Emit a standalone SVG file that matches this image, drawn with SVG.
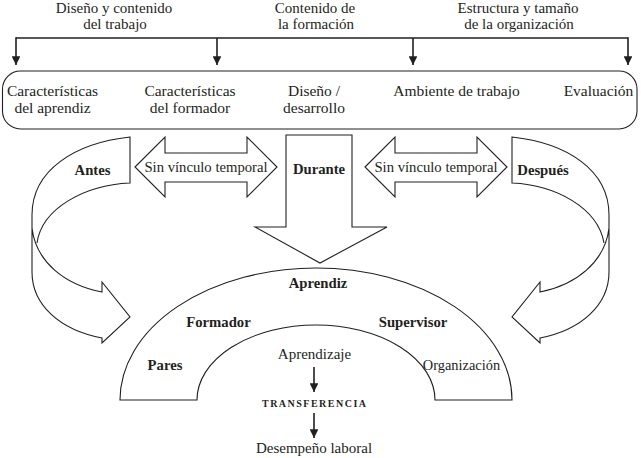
<svg xmlns="http://www.w3.org/2000/svg" width="641" height="458" viewBox="0 0 641 458">
<defs>
<style>
text{font-family:"Liberation Serif","Times New Roman",serif;fill:#231f20;text-anchor:middle}
.r{font-size:15px}
.bx{font-size:15.5px}
.b{font-size:14.7px;font-weight:bold}
.tr{font-size:10px;font-weight:bold;text-anchor:start}
.sh{fill:#fff;stroke:#231f20;stroke-width:1.1;stroke-linejoin:miter}
.ln{fill:none;stroke:#231f20;stroke-width:1.1}
.cn{fill:none;stroke:#231f20;stroke-width:1.6}
</style>
<marker id="ah" viewBox="0 0 10 10" refX="10" refY="5" markerWidth="5.5" markerHeight="5.5" markerUnits="strokeWidth" orient="auto">
<path d="M0,0 L10,5 L0,10 Z" fill="#231f20"/>
</marker>
</defs>
<rect width="641" height="458" fill="#fff"/>

<g id="label-diseno-trabajo">
<text class="r" x="114" y="12.5">Diseño y contenido</text>
<text class="r" x="115" y="28.5">del trabajo</text>
</g>
<g id="label-contenido-formacion">
<text class="r" x="315" y="12.5">Contenido de</text>
<text class="r" x="316" y="28.5">la formación</text>
</g>
<g id="label-estructura">
<text class="r" x="518" y="12.5">Estructura y tamaño</text>
<text class="r" x="519" y="28.5">de la organización</text>
</g>

<g id="box">
<rect class="sh" x="2.5" y="71" width="634.5" height="58" rx="18" ry="18"/>
<text class="bx" x="52.5" y="96">Características</text>
<text class="bx" x="52.5" y="112.5">del aprendiz</text>
<text class="bx" x="190" y="96">Características</text>
<text class="bx" x="190" y="112.5">del formador</text>
<text class="bx" x="314" y="96">Diseño /</text>
<text class="bx" x="314" y="112.5">desarrollo</text>
<text class="bx" x="456.5" y="96">Ambiente de trabajo</text>
<text class="bx" x="598.5" y="96">Evaluación</text>
</g>

<g id="connectors">
<path class="cn" d="M16,38 L628,38"/>
<path class="cn" d="M16,37.2 L16,65" marker-end="url(#ah)"/>
<path class="cn" d="M217,38 L217,65" marker-end="url(#ah)"/>
<path class="cn" d="M413,38 L413,65" marker-end="url(#ah)"/>
<path class="cn" d="M628,37.2 L628,65" marker-end="url(#ah)"/>
<path class="cn" d="M314,367 L314,392" marker-end="url(#ah)"/>
<path class="cn" d="M314,413 L314,438" marker-end="url(#ah)"/>
</g>

<g id="antes">
<path class="ln" d="M32,228 C36,262 65,285 102,292 L102,282 L130,317 L102,343 L102,338 C60,330 32,305 32,272 L32,215 C32,170 75,143 130,137 L130,183 C85,185 42,208 37,243"/>
<text class="b" x="92.5" y="174.5">Antes</text>
</g>

<g id="despues">
<path class="ln" d="M609,228 C605,262 576,285 540,292 L540,282 L512,317 L540,343 L540,338 C581,330 609,305 609,272 L609,215 C609,170 567,143 512,137 L512,183 C556,185 598,208 604,243"/>
<text class="b" x="543" y="174.5">Después</text>
</g>

<g id="sin-vinculo-1">
<polygon class="sh" points="135,167 165,137 165,153 247,153 247,137 277,167 247,197 247,182 165,182 165,197"/>
<text class="r" x="206" y="172" style="font-size:14.7px">Sin vínculo temporal</text>
</g>

<g id="sin-vinculo-2">
<polygon class="sh" points="365,167 395,137 395,153 477,153 477,137 507,167 477,197 477,182 395,182 395,197"/>
<text class="r" x="436" y="172" style="font-size:14.7px">Sin vínculo temporal</text>
</g>

<g id="durante">
<polygon class="sh" points="286,135 352,135 352,227 387,227 320,263 255,227 286,227"/>
<text class="b" x="319" y="173.5">Durante</text>
</g>

<g id="arco">
<path class="sh" d="M120,400 A196,132 0 0 1 512,400 L435,400 A119,75 0 0 0 197,400 Z"/>
<text class="b" x="318" y="288">Aprendiz</text>
<text class="b" x="218.5" y="327">Formador</text>
<text class="b" x="413" y="327">Supervisor</text>
<text class="b" x="165" y="370">Pares</text>
<text class="r" x="461.5" y="370" style="font-size:14.4px">Organización</text>
</g>

<g id="aprendizaje">
<text class="r" x="314.5" y="359">Aprendizaje</text>
</g>
<g id="transferencia">
<text class="tr" x="262" y="407" textLength="104" lengthAdjust="spacing">TRANSFERENCIA</text>
</g>
<g id="desempeno">
<text class="r" x="314" y="453">Desempeño laboral</text>
</g>
</svg>
